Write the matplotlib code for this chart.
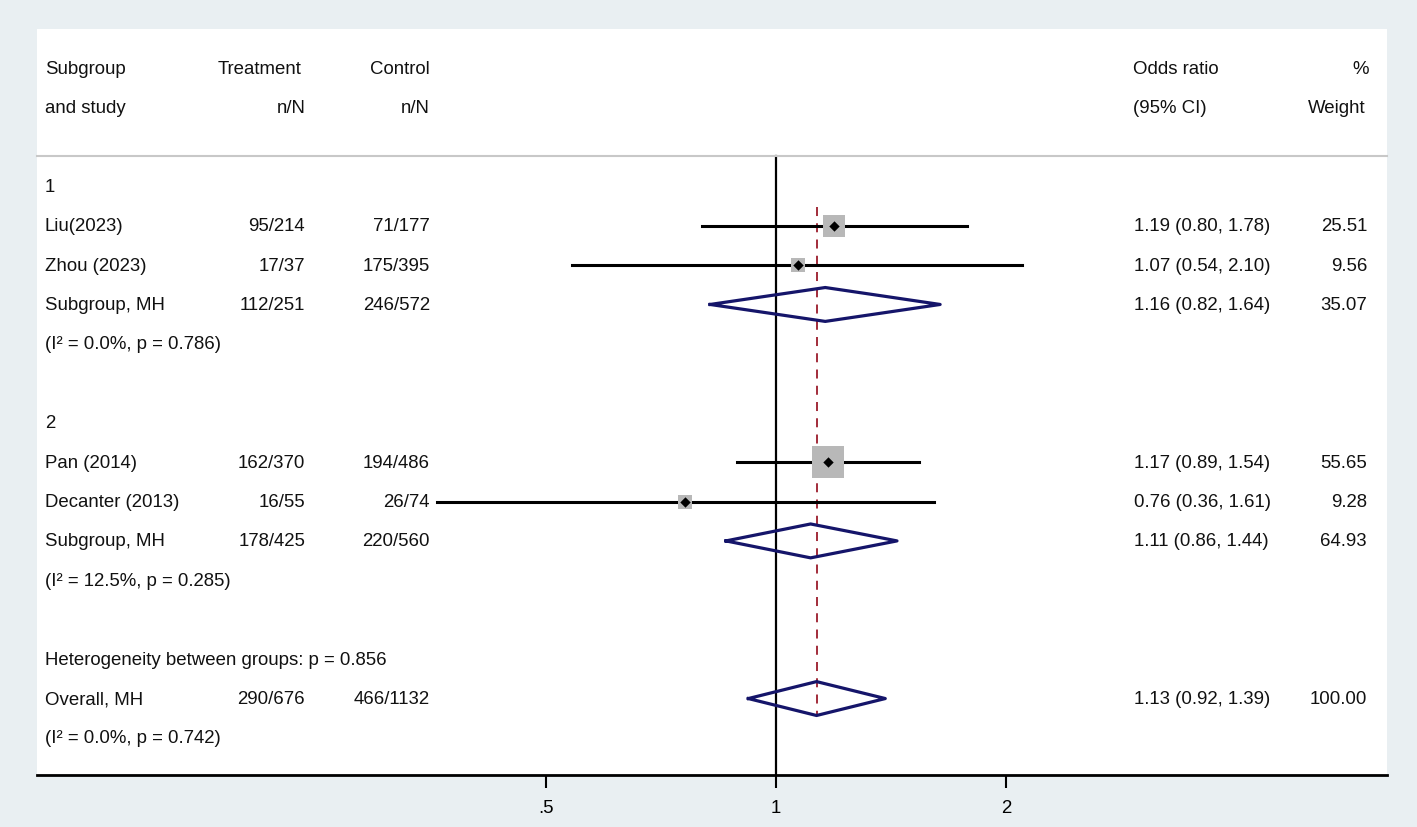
import numpy as np
import matplotlib.pyplot as plt

plt.rcParams['font.family'] = ['Liberation Sans', 'DejaVu Sans']

# study level data
groups = [1, 1, 2, 2]
studies = ["Liu(2023)", "Zhou (2023)", "Pan (2014)", "Decanter (2013)"]
treat = ["95/214", "17/37", "162/370", "16/55"]
ctrl = ["71/177", "175/395", "194/486", "26/74"]
odds = [1.19, 1.07, 1.17, 0.76]
lo = [0.80, 0.54, 0.89, 0.36]
hi = [1.78, 2.10, 1.54, 1.61]
weight = [25.51, 9.56, 55.65, 9.28]

# subgroup pooled
sub_treat = ["112/251", "178/425"]
sub_ctrl = ["246/572", "220/560"]
sub_or = [1.16, 1.11]
sub_lo = [0.82, 0.86]
sub_hi = [1.64, 1.44]
sub_wt = [35.07, 64.93]
sub_het = ["(I² = 0.0%, p = 0.786)", "(I² = 12.5%, p = 0.285)"]

# overall
all_treat, all_ctrl = "290/676", "466/1132"
all_or, all_lo, all_hi, all_wt = 1.13, 0.92, 1.39, 100.00
all_het = "(I² = 0.0%, p = 0.742)"
between_p = "Heterogeneity between groups: p = 0.856"

xticks = [0.5, 1, 2]
xticklabels = [".5", "1", "2"]

W, H = 1417, 828
fig = plt.figure(figsize=(W / 100, H / 100), dpi=100, facecolor="#e9eff2")
ax = fig.add_axes([37 / W, (H - 776) / H, 1350 / W, (776 - 30) / H])
ax.set_facecolor("white")
ax.set_xscale("log", base=2)
ax.set_xlim(2 ** ((37 - 776) / 230), 2 ** ((1387 - 776) / 230))
ax.set_ylim(17.94, -0.99)

tr = ax.get_yaxis_transform()
fs = 13.4


def col(px):
    return (px - 37) / 1350


def put(x, y, s, ha="left"):
    ax.text(col(x), y, s, transform=tr, ha=ha, va="center", fontsize=fs, color="#111111")


def row_text(y, name, t, c, o, l, h, w):
    put(45, y, name)
    put(305, y, t, "right")
    put(430, y, c, "right")
    put(1134, y, f"{o:.2f} ({l:.2f}, {h:.2f})")
    put(1367, y, f"{w:.2f}", "right")


navy = "#15156a"


def diamond(y, o, l, h):
    ax.plot([l, o, h, o, l], [y, y - 0.43, y, y + 0.43, y], color=navy, lw=2.3, zorder=3)


# header
put(45, 0, "Subgroup")
put(301, 0, "Treatment", "right")
put(430, 0, "Control", "right")
put(1133, 0, "Odds ratio")
put(1369, 0, "%", "right")
put(45, 1, "and study")
put(306, 1, "n/N", "right")
put(430, 1, "n/N", "right")
put(1133, 1, "(95% CI)")
put(1366, 1, "Weight", "right")
ax.plot([0, 1], [2.23, 2.23], transform=tr, color="#c8c8c8", lw=1.5, clip_on=False)

ax.plot([1, 1], [2.23, 17.94], color="black", lw=1.6, zorder=1)
ax.plot([all_or, all_or], [3.53, 16.43], color="#9b1b2b", lw=1.3, ls=(0, (5, 4)), zorder=2)

y = 3
for g in (1, 2):
    put(45, y, str(g))
    y += 1
    for i in range(len(studies)):
        if groups[i] != g:
            continue
        row_text(y, studies[i], treat[i], ctrl[i], odds[i], lo[i], hi[i], weight[i])
        ax.plot([lo[i], hi[i]], [y, y], color="black", lw=2.2, zorder=2)
        ax.scatter([odds[i]], [y], marker="s", s=8.9 * weight[i] + 15, color="#b8b8b8", zorder=3, lw=0)
        ax.scatter([odds[i]], [y], marker="D", s=28, color="black", zorder=4, lw=0)
        y += 1
    k = g - 1
    row_text(y, "Subgroup, MH", sub_treat[k], sub_ctrl[k], sub_or[k], sub_lo[k], sub_hi[k], sub_wt[k])
    diamond(y, sub_or[k], sub_lo[k], sub_hi[k])
    y += 1
    put(45, y, sub_het[k])
    y += 2

put(45, y, between_p)
y += 1
row_text(y, "Overall, MH", all_treat, all_ctrl, all_or, all_lo, all_hi, all_wt)
diamond(y, all_or, all_lo, all_hi)
put(45, y + 1, all_het)

for s in ("top", "left", "right"):
    ax.spines[s].set_visible(False)
ax.spines["bottom"].set_linewidth(2)
ax.set_yticks([])
ax.set_xticks(xticks)
ax.set_xticklabels(xticklabels, fontsize=fs)
ax.xaxis.set_minor_locator(plt.NullLocator())
ax.tick_params(axis="x", length=9, width=1.5, pad=8)

fig.savefig("out.png", dpi=100, facecolor=fig.get_facecolor())
